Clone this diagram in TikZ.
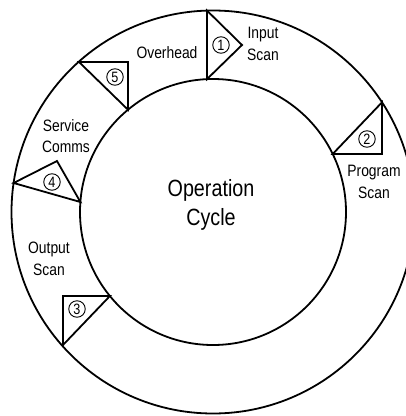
\documentclass[tikz,border=0pt]{standalone}
\usepackage{fontspec}
\setmainfont{Liberation Sans}[FakeStretch=0.84]
\begin{document}
\begin{tikzpicture}[x=1pt,y=-1pt,
  ring/.style={circle, draw, line width=1.8pt, inner sep=0pt},
  tri/.style={draw, line width=1.8pt, line join=miter},
  lbl/.style={font=\fontsize{16.5}{21.5}\selectfont, align=center, inner sep=0pt},
  big/.style={font=\fontsize{23.5}{28.5}\selectfont, align=center, inner sep=0pt},
  num/.style={circle, draw, line width=0.9pt, minimum size=16.5pt, inner sep=0pt,
    font=\fontsize{15}{15}\selectfont}]
\useasboundingbox (0,0) rectangle (406,416);
\clip (0,0) rectangle (406,416);
\node[ring, minimum size=403pt] (outer) at (213,212) {};
\node[ring, minimum size=266pt] (inner) at (213,212) {};
\node[big] (cycle) at (211,205) {Operation\\Cycle};
% triangles
\draw[tri] (207,10.6) -- (242,45) -- (207,79.1) -- cycle;
\draw[tri] (382,102.3) -- (382,154) -- (332.7,154) -- cycle;
\draw[tri] (63,296) -- (109.9,296) -- (63,345) -- cycle;
\draw[tri] (13.6,183) -- (57,161) -- (80.4,202) -- cycle;
\draw[tri] (79,62) -- (128,62) -- (128,109.7) -- cycle;
% numbers
\node[num] (n1) at (221,45) {1};
\node[num] (n2) at (367,139) {2};
\node[num] (n3) at (77,309) {3};
\node[num] (n4) at (52,182) {4};
\node[num] (n5) at (115,77) {5};
% labels
\node[lbl] (l1) at (263,44) {Input\\Scan};
\node[lbl] (l2) at (374,182) {Program\\Scan};
\node[lbl] (l4) at (66,136) {Service\\Comms};
\node[lbl] (l3) at (49,259) {Output\\Scan};
\node[lbl] (l5) at (167,53) {Overhead};
\end{tikzpicture}
\end{document}
